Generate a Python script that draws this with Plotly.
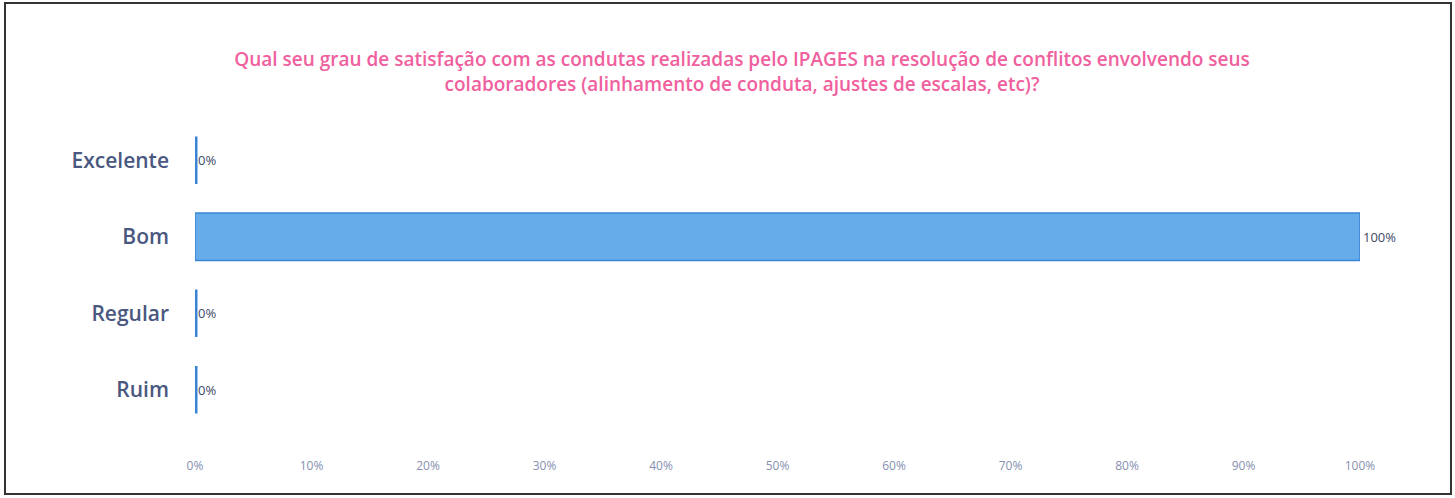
import plotly.graph_objects as go

categories = ["Excelente", "Bom", "Regular", "Ruim"]
values = [0, 100, 0, 0]
labels = ["0%", "100%", "0%", "0%"]
tick_vals = [0, 10, 20, 30, 40, 50, 60, 70, 80, 90, 100]
tick_text = ["0%", "10%", "20%", "30%", "40%", "50%", "60%", "70%", "80%", "90%", "100%"]

title_text = ("Qual seu grau de satisfação com as condutas realizadas pelo IPAGES na resolução de conflitos envolvendo seus"
              "<br>colaboradores (alinhamento de conduta, ajustes de escalas, etc)?")

line_widths = [5 if v == 0 else 1.5 for v in values]

fig = go.Figure()
fig.add_trace(go.Bar(
    y=categories, x=values, orientation="h",
    marker=dict(color="#66abea", line=dict(color="#3a84d6", width=line_widths)),
    width=0.62,
    text=labels, textposition="outside", cliponaxis=False,
    textfont=dict(family="Open Sans, sans-serif", size=13, color="#3d4a66"),
))

fig.update_layout(
    width=1455, height=498,
    paper_bgcolor="white", plot_bgcolor="white",
    margin=dict(l=195, r=95, t=122, b=70),
    showlegend=False,
    title=dict(text=title_text, x=0.51, xref="container", xanchor="center",
               y=0.867, yanchor="middle",
               font=dict(family="Open Sans, sans-serif", size=19, color="#f0609e", weight=600)),
    xaxis=dict(range=[0, 100], tickvals=tick_vals, ticktext=tick_text,
               showgrid=False, zeroline=False, showline=False,
               tickfont=dict(family="Open Sans, sans-serif", size=12, color="#8590b0"),
               ticklabelstandoff=29),
    yaxis=dict(categoryorder="array", categoryarray=categories[::-1],
               showgrid=False, zeroline=False, showline=False,
               tickfont=dict(family="Open Sans, sans-serif", size=21, color="#4a5880", weight=600),
               ticklabelstandoff=25),
    shapes=[dict(type="rect", xref="paper", yref="paper",
                 x0=-0.1631, x1=1.0781, y0=-0.2157, y1=1.389,
                 line=dict(color="#333333", width=2), fillcolor="rgba(0,0,0,0)", layer="below")],
)

fig.write_html("out.html", config={"displayModeBar": False},
               post_script="document.body.style.margin='0';")
